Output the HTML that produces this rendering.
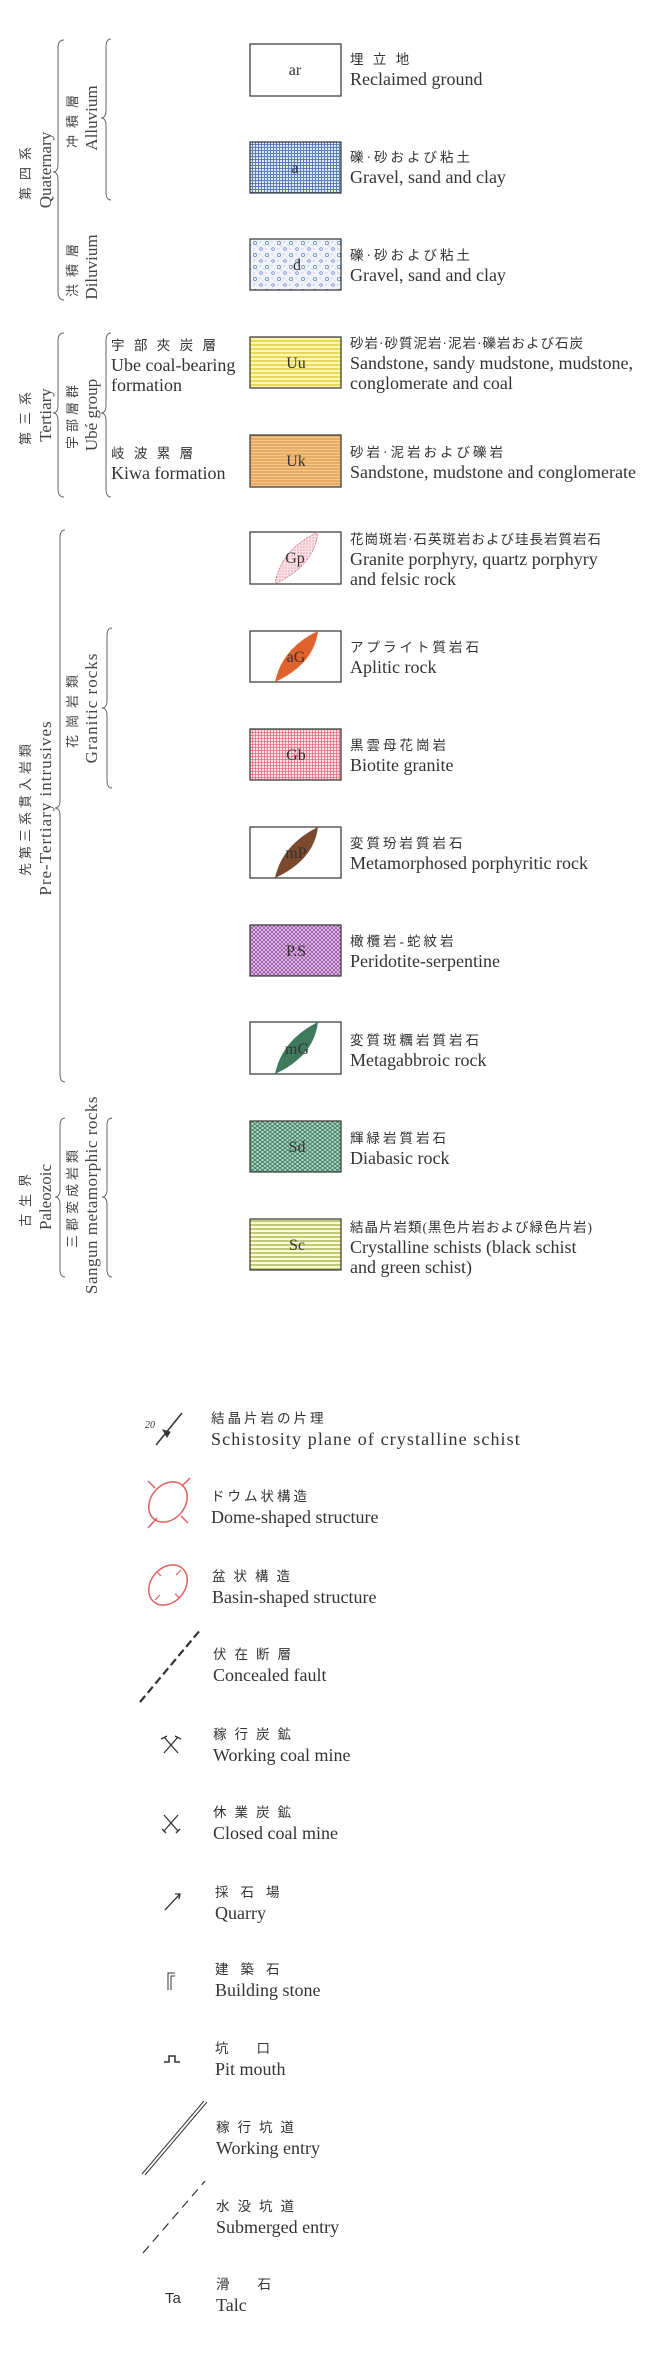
<!DOCTYPE html>
<html><head><meta charset="utf-8"><style>
html,body{margin:0;padding:0;background:#fff}
svg{display:block}
.en{font-family:"Liberation Serif",serif;font-size:18px;fill:#333}
.jp{font-family:"Liberation Serif","Noto Sans CJK JP",sans-serif;font-size:13.5px;fill:#333;letter-spacing:3px}
.c{font-family:"Liberation Serif",serif;font-size:16px;fill:#333;text-anchor:middle}
.v{font-family:"Liberation Serif",serif;font-size:17px;fill:#444;text-anchor:middle}
.vj{font-family:"Liberation Serif","Noto Sans CJK JP",sans-serif;font-size:13px;fill:#444;text-anchor:middle;letter-spacing:7px}
.br{fill:none;stroke:#666;stroke-width:1}
.bx{stroke:#333;stroke-width:1.2}
</style></head><body>
<svg width="648" height="2374" viewBox="0 0 648 2374" xmlns="http://www.w3.org/2000/svg">
<defs>
<pattern id="pa" width="3" height="3" patternUnits="userSpaceOnUse"><rect width="3" height="3" fill="#dfe8f4"/><path d="M0 0.5H3M0.5 0V3" stroke="#5a7fb5" stroke-width="1"/></pattern>
<pattern id="pd" width="12" height="12" patternUnits="userSpaceOnUse"><rect width="12" height="12" fill="#f0f4fa"/><circle cx="3" cy="3" r="1.6" fill="none" stroke="#5a82c0" stroke-width="0.7"/><circle cx="9" cy="9" r="1.3" fill="none" stroke="#5a82c0" stroke-width="0.7"/><circle cx="8" cy="2" r="0.5" fill="#6a8ac0"/><circle cx="2" cy="9" r="0.5" fill="#6a8ac0"/><circle cx="5" cy="6" r="0.4" fill="#6a8ac0"/><circle cx="11" cy="5" r="0.4" fill="#6a8ac0"/></pattern>
<pattern id="pu" width="4" height="4" patternUnits="userSpaceOnUse"><rect width="4" height="4" fill="#fbf7b0"/><path d="M0 1H4" stroke="#e0d040" stroke-width="1.5"/></pattern>
<pattern id="pk" width="4" height="3" patternUnits="userSpaceOnUse"><rect width="4" height="3" fill="#f4c98a"/><path d="M0 1H4" stroke="#d98f40" stroke-width="1"/></pattern>
<pattern id="pg" width="3" height="3" patternUnits="userSpaceOnUse"><rect width="3" height="3" fill="#fbe2e6"/><path d="M0 0.5H3M0.5 0V3" stroke="#e56a7e" stroke-width="0.8"/></pattern>
<pattern id="pp" width="4" height="4" patternUnits="userSpaceOnUse"><rect width="4" height="4" fill="#e5c9e8"/><path d="M0 0L4 4M4 0L0 4" stroke="#9a4fa8" stroke-width="0.8"/></pattern>
<pattern id="ps" width="5" height="4" patternUnits="userSpaceOnUse"><rect width="5" height="4" fill="#b9d6c8"/><path d="M0 0L5 4M5 0L0 4" stroke="#3d7d62" stroke-width="0.9"/></pattern>
<pattern id="pc" width="4" height="4" patternUnits="userSpaceOnUse"><rect width="4" height="4" fill="#fafad8"/><path d="M0 1H4" stroke="#a5b548" stroke-width="1.4"/></pattern>
<pattern id="pgp" width="3" height="3" patternUnits="userSpaceOnUse"><rect width="3" height="3" fill="#fbe4e8"/><circle cx="1" cy="1" r="0.6" fill="#e0708a"/></pattern>
</defs>

<g class="bx">
<rect x="250" y="44" width="91" height="52" fill="#fff"/>
<rect x="250" y="142" width="91" height="51" fill="url(#pa)"/>
<rect x="250" y="239" width="91" height="51" fill="url(#pd)"/>
<rect x="250" y="337" width="91" height="51" fill="url(#pu)"/>
<rect x="250" y="435" width="91" height="52" fill="url(#pk)"/>
<rect x="250" y="532" width="91" height="52" fill="#fff"/>
<rect x="250" y="631" width="91" height="51" fill="#fff"/>
<rect x="250" y="729" width="91" height="51" fill="url(#pg)"/>
<rect x="250" y="827" width="91" height="51" fill="#fff"/>
<rect x="250" y="925" width="91" height="51" fill="url(#pp)"/>
<rect x="250" y="1022" width="91" height="52" fill="#fff"/>
<rect x="250" y="1121" width="91" height="51" fill="url(#ps)"/>
<rect x="250" y="1219" width="91" height="51" fill="url(#pc)"/>
</g>
<path d="M275 584 Q280 550 318 532 Q315 565 275 584Z" fill="url(#pgp)" stroke="#b06070" stroke-width="0.6" stroke-dasharray="2 1"/>
<path d="M275 682 Q282 648 318 631 Q314 664 275 682Z" fill="#e2622e"/>
<path d="M275 878 Q282 845 318 827 Q314 860 275 878Z" fill="#7b4a2e"/>
<path d="M275 1074 Q282 1040 318 1022 Q314 1056 275 1074Z" fill="#3f7a5c"/>

<g class="c">
<text x="295" y="75">ar</text><text x="295" y="173">a</text><text x="297" y="270">d</text>
<text x="296" y="368">Uu</text><text x="296" y="466">Uk</text><text x="295" y="563">Gp</text>
<text x="296" y="662">aG</text><text x="296" y="760">Gb</text><text x="296" y="858">mP</text>
<text x="296" y="956">P.S</text><text x="297" y="1054">mG</text><text x="297" y="1152">Sd</text><text x="297" y="1250">Sc</text>
</g>

<g>
<text class="jp" x="350" y="64">埋 立 地</text><text class="en" x="350" y="85">Reclaimed ground</text>
<text class="jp" x="350" y="162">礫·砂および粘土</text><text class="en" x="350" y="183">Gravel, sand and clay</text>
<text class="jp" x="350" y="260">礫·砂および粘土</text><text class="en" x="350" y="281">Gravel, sand and clay</text>
<text class="jp" x="350" y="348" style="letter-spacing:1px">砂岩·砂質泥岩·泥岩·礫岩および石炭</text><text class="en" x="350" y="369">Sandstone, sandy mudstone, mudstone,</text><text class="en" x="350" y="389">conglomerate and coal</text>
<text class="jp" x="350" y="457">砂岩·泥岩および礫岩</text><text class="en" x="350" y="478">Sandstone, mudstone and conglomerate</text>
<text class="jp" x="350" y="544" style="letter-spacing:1px">花崗斑岩·石英斑岩および珪長岩質岩石</text><text class="en" x="350" y="565">Granite porphyry, quartz porphyry</text><text class="en" x="350" y="585">and felsic rock</text>
<text class="jp" x="350" y="652">アプライト質岩石</text><text class="en" x="350" y="673">Aplitic rock</text>
<text class="jp" x="350" y="750">黒雲母花崗岩</text><text class="en" x="350" y="771">Biotite granite</text>
<text class="jp" x="350" y="848">変質玢岩質岩石</text><text class="en" x="350" y="869">Metamorphosed porphyritic rock</text>
<text class="jp" x="350" y="946">橄欖岩-蛇紋岩</text><text class="en" x="350" y="967">Peridotite-serpentine</text>
<text class="jp" x="350" y="1045">変質斑糲岩質岩石</text><text class="en" x="350" y="1066">Metagabbroic rock</text>
<text class="jp" x="350" y="1143">輝緑岩質岩石</text><text class="en" x="350" y="1164">Diabasic rock</text>
<text class="jp" x="350" y="1232" style="letter-spacing:1px">結晶片岩類(黒色片岩および緑色片岩)</text><text class="en" x="350" y="1253">Crystalline schists (black schist</text><text class="en" x="350" y="1273">and green schist)</text>
<text class="jp" x="111" y="350">宇 部 夾 炭 層</text><text class="en" x="111" y="371">Ube coal-bearing</text><text class="en" x="111" y="391">formation</text>
<text class="jp" x="111" y="458">岐 波 累 層</text><text class="en" x="111" y="479">Kiwa formation</text>
</g>

<g class="br">
<path d="M64 40 Q58 40 58 48 V164 Q58 172 53 172 Q58 172 58 180 V292 Q58 300 64 300"/>
<path d="M111 39 Q106 39 106 47 V110 Q106 118 101 118 Q106 118 106 126 V192 Q106 200 111 200"/>
<path d="M64 333 Q58 333 58 341 V405 Q58 413 53 413 Q58 413 58 421 V489 Q58 497 64 497"/>
<path d="M111 333 Q106 333 106 341 V405 Q106 413 101 413 Q106 413 106 421 V489 Q106 497 111 497"/>
<path d="M65 530 Q60 530 60 538 V800 Q60 808 55 808 Q60 808 60 816 V1074 Q60 1082 65 1082"/>
<path d="M112 628 Q107 628 107 636 V700 Q107 708 102 708 Q107 708 107 716 V780 Q107 788 112 788"/>
<path d="M65 1118 Q60 1118 60 1126 V1189 Q60 1197 55 1197 Q60 1197 60 1205 V1269 Q60 1277 65 1277"/>
<path d="M112 1118 Q107 1118 107 1126 V1189 Q107 1197 102 1197 Q107 1197 107 1205 V1269 Q107 1277 112 1277"/>
</g>

<g>
<text class="vj" transform="translate(30,170) rotate(-90)">第四系</text>
<text class="v" transform="translate(51,170) rotate(-90)">Quaternary</text>
<text class="vj" transform="translate(77,118) rotate(-90)">冲積層</text>
<text class="v" transform="translate(97,118) rotate(-90)">Alluvium</text>
<text class="vj" transform="translate(77,267) rotate(-90)">洪積層</text>
<text class="v" transform="translate(97,267) rotate(-90)">Diluvium</text>
<text class="vj" transform="translate(30,415) rotate(-90)">第三系</text>
<text class="v" transform="translate(51,415) rotate(-90)">Tertiary</text>
<text class="vj" transform="translate(77,415) rotate(-90)" style="letter-spacing:4px">宇部層群</text>
<text class="v" transform="translate(97,415) rotate(-90)">Ubé group</text>
<text class="vj" transform="translate(30,808) rotate(-90)" style="letter-spacing:4px">先第三系貫入岩類</text>
<text class="v" transform="translate(51,808) rotate(-90)" style="letter-spacing:1px">Pre-Tertiary intrusives</text>
<text class="vj" transform="translate(77,708) rotate(-90)">花崗岩類</text>
<text class="v" transform="translate(97,708) rotate(-90)" style="letter-spacing:1px">Granitic rocks</text>
<text class="vj" transform="translate(30,1197) rotate(-90)">古生界</text>
<text class="v" transform="translate(51,1197) rotate(-90)">Paleozoic</text>
<text class="vj" transform="translate(77,1197) rotate(-90)" style="letter-spacing:4px">三郡変成岩類</text>
<text class="v" transform="translate(97,1195) rotate(-90)" style="letter-spacing:0.5px">Sangun metamorphic rocks</text>
</g>

<g stroke="#333" fill="none" stroke-width="1.5">
<path d="M156 1445 L182 1413"/>
<path d="M163 1430 L170 1432 L167 1437Z" fill="#333" stroke-width="1"/>
<path d="M140 1702 L201 1629" stroke-dasharray="8 4" stroke-width="2.2"/>
<path d="M164 1753 L178 1737 M178 1753 L164 1737 M161 1739 l6 -3 M181 1739 l-6 -3" stroke-width="1.3"/>
<path d="M164 1831 L178 1815 M178 1831 L164 1815 M162 1829 l4 4 M180 1829 l-4 4" stroke-width="1.3"/>
<path d="M165 1910 L180 1894 M175 1894 L180 1894 L179 1899" stroke-width="1.3"/>
<path d="M168 1990 V1973 H175 M171 1990 V1976 H175" stroke-width="1"/>
<path d="M164 2062 H169 V2056 H175 V2062 H180" stroke-width="1.5"/>
<path d="M142 2174 L204 2101 M145 2175 L207 2102" stroke-width="1"/>
<path d="M143 2253 L205 2181" stroke-dasharray="9 6" stroke-width="1.2"/>
</g>
<text x="145" y="1428" style="font-family:'Liberation Serif',serif;font-size:10px;font-style:italic;fill:#333">20</text>
<g stroke="#e06060" fill="none" stroke-width="1.5">
<ellipse cx="168" cy="1502" rx="17" ry="22" transform="rotate(40 168 1502)"/>
<path d="M182 1486 L190 1478 M157 1518 L148 1528 M155 1488 L148 1481 M181 1516 L188 1523"/>
<ellipse cx="168" cy="1585" rx="17" ry="22" transform="rotate(40 168 1585)"/>
<path d="M176 1575 L181 1570 M160 1595 L155 1600 M161 1576 L157 1572 M175 1594 L180 1598" stroke-width="1.2"/>
</g>
<text x="165" y="2303" style="font-family:'Liberation Sans',sans-serif;font-size:15px;fill:#333">Ta</text>
<g>
<text class="jp" x="211" y="1423">結晶片岩の片理</text><text class="en" x="211" y="1445" style="letter-spacing:1.1px">Schistosity plane of crystalline schist</text>
<text class="jp" x="211" y="1501">ドウム状構造</text><text class="en" x="211" y="1523">Dome-shaped structure</text>
<text class="jp" x="212" y="1581" style="letter-spacing:8px">盆状構造</text><text class="en" x="212" y="1603">Basin-shaped structure</text>
<text class="jp" x="213" y="1659" style="letter-spacing:8px">伏在断層</text><text class="en" x="213" y="1681">Concealed fault</text>
<text class="jp" x="213" y="1739" style="letter-spacing:8px">稼行炭鉱</text><text class="en" x="213" y="1761">Working coal mine</text>
<text class="jp" x="213" y="1817" style="letter-spacing:8px">休業炭鉱</text><text class="en" x="213" y="1839">Closed coal mine</text>
<text class="jp" x="215" y="1897" style="letter-spacing:12px">採石場</text><text class="en" x="215" y="1919">Quarry</text>
<text class="jp" x="215" y="1974" style="letter-spacing:12px">建築石</text><text class="en" x="215" y="1996">Building stone</text>
<text class="jp" x="215" y="2053" style="letter-spacing:28px">坑口</text><text class="en" x="215" y="2075">Pit mouth</text>
<text class="jp" x="216" y="2132" style="letter-spacing:8px">稼行坑道</text><text class="en" x="216" y="2154">Working entry</text>
<text class="jp" x="216" y="2211" style="letter-spacing:8px">水没坑道</text><text class="en" x="216" y="2233">Submerged entry</text>
<text class="jp" x="216" y="2289" style="letter-spacing:28px">滑石</text><text class="en" x="216" y="2311">Talc</text>
</g>
</svg>
</body></html>
